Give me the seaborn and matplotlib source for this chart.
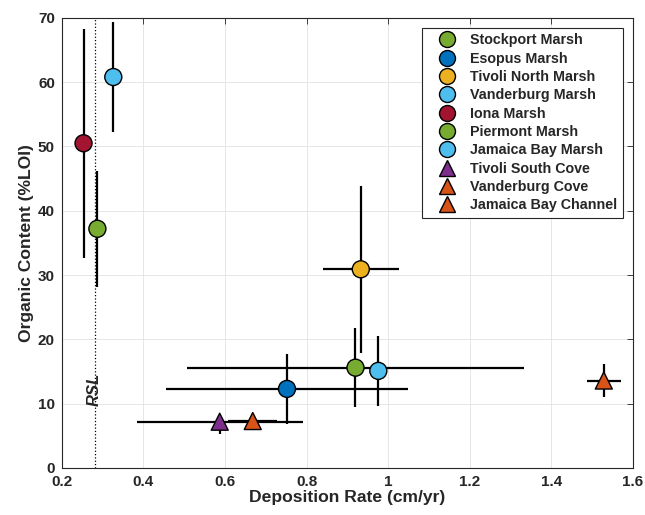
import numpy as np
import pandas as pd
import matplotlib
matplotlib.use("Agg")
import matplotlib.pyplot as plt
import seaborn as sns
from matplotlib.lines import Line2D
from matplotlib.ticker import FormatStrFormatter

# ---------------- data ----------------
sites = [
    "Stockport Marsh",
    "Esopus Marsh",
    "Tivoli North Marsh",
    "Vanderburg Marsh",
    "Iona Marsh",
    "Piermont Marsh",
    "Jamaica Bay Marsh",
    "Tivoli South Cove",
    "Vanderburg Cove",
    "Jamaica Bay Channel",
]
dep_rate = [0.920, 0.752, 0.933, 0.326, 0.253, 0.287, 0.976, 0.587, 0.668, 1.529]
dep_err = [0.414, 0.297, 0.093, 0.0, 0.0, 0.0, 0.0, 0.204, 0.060, 0.041]
organic = [15.6, 12.3, 30.9, 60.8, 50.5, 37.2, 15.1, 7.2, 7.3, 13.6]
organic_err_lo = [6.1, 5.4, 13.0, 8.5, 17.8, 9.0, 5.4, 1.9, 0.8, 2.5]
organic_err_hi = [6.1, 5.4, 13.0, 8.5, 17.8, 9.0, 5.4, 0.8, 0.8, 2.5]
rsl = 0.28

# colours / markers (MATLAB default palette)
colors = ["#77AC30", "#0072BD", "#EDB120", "#4DBEEE", "#A2142F",
          "#77AC30", "#4DBEEE", "#7E2F8E", "#D95319", "#D95319"]
markers = ["o"] * 7 + ["^"] * 3

df = pd.DataFrame({
    "site": sites,
    "x": dep_rate,
    "y": organic,
    "xerr": dep_err,
    "yerr_lo": organic_err_lo,
    "yerr_hi": organic_err_hi,
})

# ---------------- style ----------------
sns.set_style("white")
plt.rcParams["font.family"] = ["Liberation Sans", "DejaVu Sans"]
plt.rcParams["font.weight"] = "bold"
plt.rcParams["axes.labelweight"] = "bold"

fig = plt.figure(figsize=(6.45, 5.15), dpi=100)
ax = fig.add_axes([0.096, 0.0913, 0.885, 0.874])

# error bars
ax.errorbar(
    df["x"], df["y"],
    xerr=df["xerr"], yerr=[df["yerr_lo"], df["yerr_hi"]],
    fmt="none", ecolor="black", elinewidth=1.6, capsize=0, zorder=2
)

# points
sns.scatterplot(
    data=df, x="x", y="y",
    hue="site", style="site",
    palette=dict(zip(sites, colors)),
    markers=dict(zip(sites, markers)),
    s=150, edgecolor="black", linewidth=1,
    legend=False, ax=ax, zorder=3
)

# RSL line
ax.axvline(rsl, color="black", linestyle=":", linewidth=0.9, zorder=1)
ax.text(rsl, 12.3, "RSL", rotation=90, fontsize=12, fontweight="bold",
        fontstyle="italic", ha="center", va="center", zorder=4)

# axes
ax.set_xlim(0.2, 1.6)
ax.set_ylim(0, 70)
ax.set_xticks(np.arange(0.2, 1.61, 0.2))
ax.set_yticks(np.arange(0, 71, 10))
ax.xaxis.set_major_formatter(FormatStrFormatter("%g"))
ax.tick_params(direction="in", length=4, width=0.6, top=True, right=True,
               labelsize=11, colors="#262626", pad=5)
for lab in ax.get_xticklabels() + ax.get_yticklabels():
    lab.set_fontweight("bold")
ax.grid(True, color="#e6e6e6", linewidth=0.7)
ax.set_axisbelow(True)
for sp in ax.spines.values():
    sp.set_color("#262626")
    sp.set_linewidth(0.8)

ax.set_xlabel("Deposition Rate (cm/yr)", fontsize=12.6, labelpad=1, color="#262626")
ax.set_ylabel("Organic Content (%LOI)", fontsize=12.6, labelpad=3, color="#262626")

# legend
handles = [
    Line2D([0], [0], marker=m, color="none", markerfacecolor=c,
           markeredgecolor="black", markeredgewidth=1, markersize=11.5)
    for c, m in zip(colors, markers)
]
leg = ax.legend(
    handles, sites, loc="upper right", bbox_to_anchor=(0.983, 0.978),
    fontsize=10.3, frameon=True, fancybox=False, framealpha=1,
    edgecolor="#262626", labelspacing=0.3, handletextpad=0.3,
    borderpad=0.4, handlelength=2.66, borderaxespad=0
)
leg.get_frame().set_linewidth(0.8)
for t in leg.get_texts():
    t.set_fontweight("bold")

fig.savefig("out.png", dpi=100)
